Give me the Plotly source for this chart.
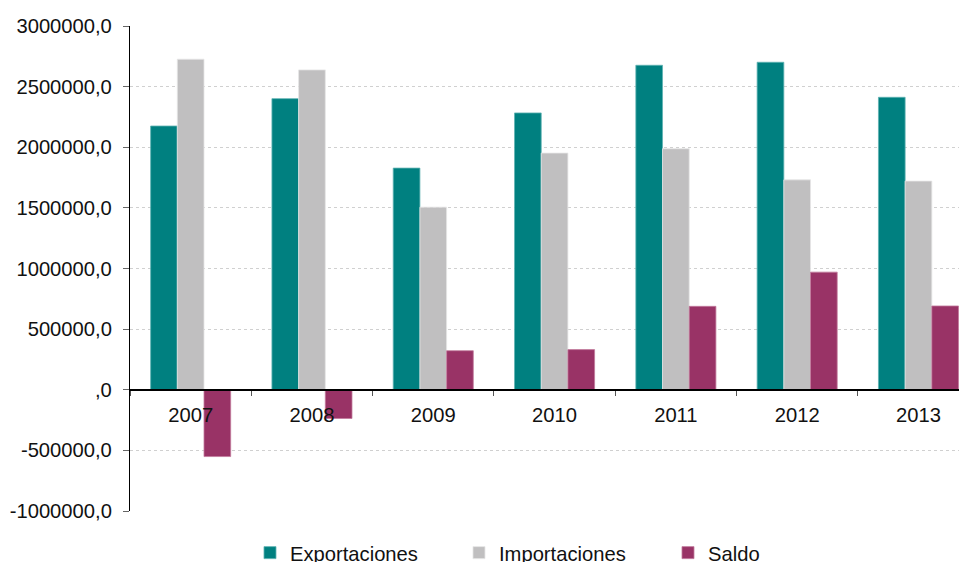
import plotly.graph_objects as go

years = ["2007", "2008", "2009", "2010", "2011", "2012", "2013"]
exportaciones = [2175000, 2401000, 1828000, 2283000, 2676000, 2701000, 2412000]
importaciones = [2726000, 2638000, 1506000, 1952000, 1988000, 1731000, 1721000]
saldo = [-551000, -237000, 322000, 331000, 688000, 970000, 691000]

y_tickvals = [-1000000, -500000, 0, 500000, 1000000, 1500000, 2000000, 2500000, 3000000]
y_ticktext = ["-1000000,0", "-500000,0", ",0", "500000,0", "1000000,0",
              "1500000,0", "2000000,0", "2500000,0", "3000000,0"]

FONT = "Liberation Sans, Arial, sans-serif"
FS = 20.2

fig = go.Figure()
fig.add_trace(go.Bar(x=years, y=exportaciones, name="Exportaciones",
                     marker=dict(color="#008080", line=dict(color="#5fb3b3", width=0.8))))
fig.add_trace(go.Bar(x=years, y=importaciones, name="Importaciones",
                     marker=dict(color="#C0BFC0", line=dict(color="#e6e6e6", width=0.8))))
fig.add_trace(go.Bar(x=years, y=saldo, name="Saldo",
                     marker=dict(color="#993366", line=dict(color="#c27a9c", width=0.8))))

fig.update_layout(
    width=967, height=562,
    margin=dict(l=122, r=0, t=18, b=59, autoexpand=False),
    paper_bgcolor="white", plot_bgcolor="white",
    font=dict(family=FONT, size=FS, color="#111111"),
    barmode="group", bargap=0.34, bargroupgap=0,
    showlegend=True,
    legend=dict(orientation="h", x=0.142, xanchor="left", y=-0.0866, yanchor="middle",
                font=dict(family=FONT, size=FS, color="#111111"),
                entrywidth=164, entrywidthmode="pixels", itemwidth=30,
                bgcolor="rgba(0,0,0,0)"),
    xaxis=dict(
        type="category", range=[-0.5, 6.466],
        anchor="free", position=0.25, automargin=False,
        showline=True, linecolor="#000000", linewidth=1.5,
        ticks="outside", tickson="boundaries", ticklen=5, tickcolor="#555555",
        ticklabelstandoff=7,
        showgrid=False, zeroline=False,
        tickfont=dict(family=FONT, size=FS, color="#111111"),
    ),
    yaxis=dict(
        range=[-1000000, 3000000], automargin=False,
        tickvals=y_tickvals, ticktext=y_ticktext,
        showline=True, linecolor="#000000", linewidth=1.2,
        ticks="outside", ticklen=6, tickcolor="#666666",
        ticklabelstandoff=7,
        showgrid=True, gridcolor="#d0d0d0", griddash="dot", gridwidth=1,
        zeroline=False,
        tickfont=dict(family=FONT, size=FS, color="#111111"),
    ),
)

fig.write_html("out.html")
